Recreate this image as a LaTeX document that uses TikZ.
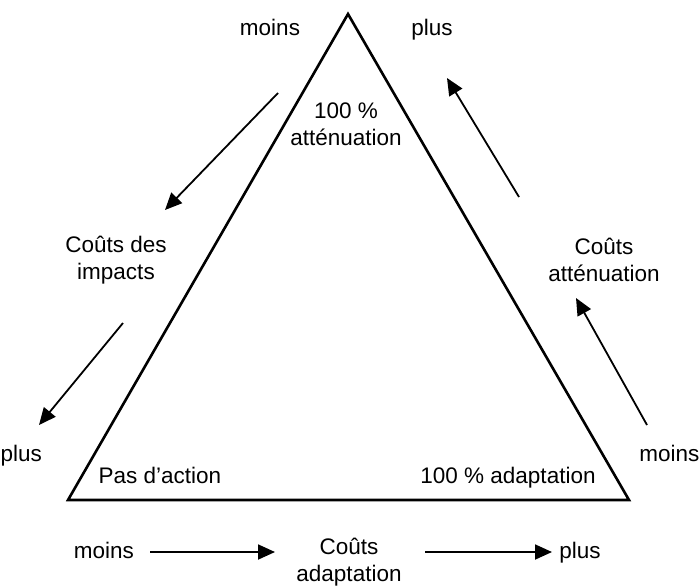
\documentclass[tikz,border=0pt]{standalone}
\usepackage{fontspec}
\setmainfont{Liberation Sans}
\usetikzlibrary{arrows.meta}
\begin{document}
\begin{tikzpicture}[x=1pt,y=-1pt,
  lbl/.style={inner sep=0pt, align=center, font=\fontsize{22.5}{27.5}\selectfont},
  arr/.style={line width=1.8pt, -{Triangle[length=17pt,width=15pt]}},
  edge/.style={line width=2.6pt, line join=miter}]
\useasboundingbox (0,0) rectangle (700,587);
% triangle
\coordinate (top) at (348,14);
\coordinate (bl) at (68,500);
\coordinate (br) at (629,500);
\draw[edge] (top) -- (bl) -- (br) -- cycle;
% labels
\node[lbl, anchor=base] (tmoins) at (270,35) {moins};
\node[lbl, anchor=base] (tplus) at (432,35) {plus};
\node[lbl] (att100) at (346,124) {100 \%\\atténuation};
\node[lbl] (cimp) at (116,260) {Coûts des\\impacts};
\node[lbl] (catt) at (604,260) {Coûts\\atténuation};
\node[lbl, anchor=base west] (lplus) at (0.5,461) {plus};
\node[lbl, anchor=base east] (rmoins) at (699.5,461) {moins};
\node[lbl, anchor=base] (pas) at (160,483) {Pas d’action};
\node[lbl, anchor=base] (adapt100) at (508,483) {100 \% adaptation};
\node[lbl, anchor=base] (bmoins) at (104,558) {moins};
\node[lbl, anchor=base] (bplus) at (580,558) {plus};
\node[lbl] (cadapt) at (349,562) {Coûts\\adaptation};
% arrow end points
\coordinate (l1s) at (278,93);  \coordinate (l1e) at (165,210);
\coordinate (l2s) at (123,323); \coordinate (l2e) at (39,425);
\coordinate (r1s) at (519,197); \coordinate (r1e) at (447,78);
\coordinate (r2s) at (647,425); \coordinate (r2e) at (576,298);
\coordinate (b1s) at (150,552); \coordinate (b1e) at (275,552);
\coordinate (b2s) at (425,552); \coordinate (b2e) at (552,552);
\draw[arr] (l1s) -- (l1e);
\draw[arr] (l2s) -- (l2e);
\draw[arr] (r1s) -- (r1e);
\draw[arr] (r2s) -- (r2e);
\draw[arr] (b1s) -- (b1e);
\draw[arr] (b2s) -- (b2e);
\end{tikzpicture}
\end{document}
